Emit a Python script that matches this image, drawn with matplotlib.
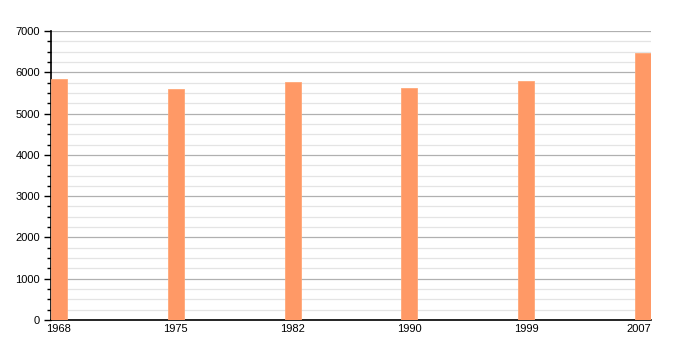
import numpy as np
import matplotlib.pyplot as plt
import matplotlib.transforms as mtransforms
from matplotlib.ticker import MultipleLocator

plt.rcParams['font.family'] = ['Liberation Sans', 'DejaVu Sans']

# population by census year
years = ['1968', '1975', '1982', '1990', '1999', '2007']
population = [5830, 5600, 5765, 5620, 5795, 6470]

fig = plt.figure(figsize=(7, 3.5), dpi=100)
ax = fig.add_axes([51 / 700, 30 / 350, 600 / 700, 289 / 350])

w = 0.137
x = np.arange(len(years))
ax.bar(x, population, width=w, color='#FF9966', edgecolor='#FFA878', linewidth=0.6, zorder=3)

ax.set_xlim(-w / 2, len(years) - 1 + w / 2)
ax.set_ylim(0, 7000)
ax.set_xticks(x)
ax.set_xticklabels(years)

ax.yaxis.set_major_locator(MultipleLocator(1000))
ax.yaxis.set_minor_locator(MultipleLocator(250))
ax.grid(axis='y', which='major', color='#b0b0b0', linewidth=0.9, zorder=0)
ax.grid(axis='y', which='minor', color='#e4e4e4', linewidth=0.9, zorder=0)

for s in ['top', 'right']:
    ax.spines[s].set_visible(False)
ax.spines['left'].set_linewidth(1.2)
ax.spines['bottom'].set_linewidth(1.2)

ax.tick_params(axis='y', which='major', length=5, width=1, labelsize=8, pad=3)
ax.tick_params(axis='y', which='minor', length=3, width=1)
ax.tick_params(axis='x', length=0, labelsize=8, pad=3)

# last year label sits flush with the right end of the axis
last = ax.get_xticklabels()[-1]
last.set_horizontalalignment('right')
last.set_transform(last.get_transform() + mtransforms.ScaledTranslation(8 / 100, 0, fig.dpi_scale_trans))

fig.savefig('out.png', dpi=100)
